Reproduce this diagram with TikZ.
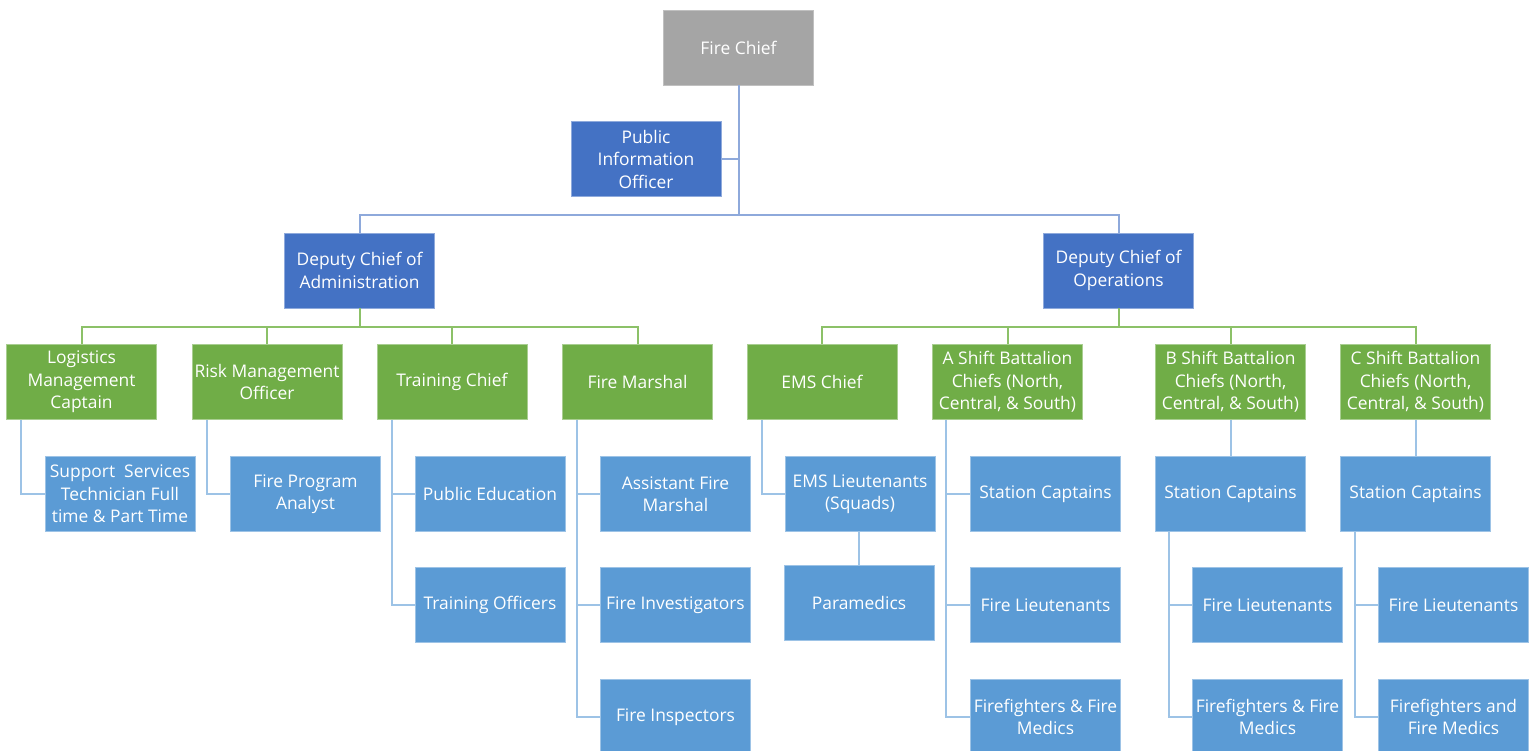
\documentclass[tikz,border=0pt]{standalone}
\usepackage{fontspec}
\setmainfont{Open Sans}
\definecolor{cgray}{HTML}{A5A5A5}
\definecolor{cblue}{HTML}{4472C4}
\definecolor{cgreen}{HTML}{70AD47}
\definecolor{clight}{HTML}{5B9BD5}
\definecolor{ltop}{HTML}{8EA9DB}
\definecolor{lgreen}{HTML}{8CC168}
\definecolor{lblue}{HTML}{9DC3E6}
\tikzset{
  box/.style={minimum width=150pt, minimum height=75pt, inner sep=0pt, align=center,
    text=white, font=\fontsize{17.4}{22.5}\selectfont, line width=0.8pt},
  graybox/.style={box, fill=cgray, draw=cgray!70!white},
  bluebox/.style={box, fill=cblue, draw=cblue!60!white},
  greenbox/.style={box, fill=cgreen, draw=cgreen!60!white},
  lightbox/.style={box, fill=clight, draw=clight!60!white},
  topline/.style={draw=ltop, line width=2pt},
  gline/.style={draw=lgreen, line width=2pt},
  bline/.style={draw=lblue, line width=2pt},
}
\begin{document}
\begin{tikzpicture}[x=1pt,y=-1pt]
\useasboundingbox (0,0) rectangle (1536,751);
% top
\node[graybox] (chief) at (738.5,47.5) {Fire Chief};
\node[bluebox] (pio) at (646,159) {Public\\Information\\Officer};
\node[bluebox] (dadm) at (359.5,270.5) {Deputy Chief of\\Administration};
\node[bluebox] (dops) at (1118.5,270.5) {Deputy Chief of\\Operations};
% green row
\node[greenbox] (log) at (81.5,382) {Logistics\\Management\\Captain};
\node[greenbox] (risk) at (267,382) {Risk Management\\Officer};
\node[greenbox] (train) at (452,382) {Training Chief};
\node[greenbox] (marshal) at (637.5,382) {Fire Marshal};
\node[greenbox] (ems) at (822,382) {EMS Chief};
\node[greenbox] (ash) at (1007.5,382) {A Shift Battalion\\Chiefs (North,\\Central, \& South)};
\node[greenbox] (bsh) at (1230.5,382) {B Shift Battalion\\Chiefs (North,\\Central, \& South)};
\node[greenbox] (csh) at (1415.5,382) {C Shift Battalion\\Chiefs (North,\\Central, \& South)};
% row 1
\node[lightbox] (sup) at (120,494) {Support\ \ Services\\Technician Full\\time \& Part Time};
\node[lightbox] (fpa) at (305.5,494) {Fire Program\\Analyst};
\node[lightbox] (pubed) at (490,494) {Public Education};
\node[lightbox] (afm) at (675.5,494) {Assistant Fire\\Marshal};
\node[lightbox] (emsl) at (860,494) {EMS Lieutenants\\(Squads)};
\node[lightbox] (sca) at (1045.5,494) {Station Captains};
\node[lightbox] (scb) at (1230.5,494) {Station Captains};
\node[lightbox] (scc) at (1415.5,494) {Station Captains};
% row 2
\node[lightbox] (trof) at (490,605) {Training Officers};
\node[lightbox] (finv) at (675.5,605) {Fire Investigators};
\node[lightbox] (para) at (859,603) {Paramedics};
\node[lightbox] (fla) at (1045.5,605) {Fire Lieutenants};
\node[lightbox] (flb) at (1267.5,605) {Fire Lieutenants};
\node[lightbox] (flc) at (1453.5,605) {Fire Lieutenants};
% row 3
\node[lightbox] (finsp) at (675.5,717) {Fire Inspectors};
\node[lightbox] (ffa) at (1045.5,717) {Firefighters \& Fire\\Medics};
\node[lightbox] (ffb) at (1267.5,717) {Firefighters \& Fire\\Medics};
\node[lightbox] (ffc) at (1453.5,717) {Firefighters and\\Fire Medics};
% connectors top
\draw[topline] (chief.south) -- ++(0,130) -| (dadm.north);
\draw[topline] (chief.south) -- ++(0,130) -| (dops.north);
\draw[topline] (pio.east) -- (pio.east -| chief.south);
% green connectors
\foreach \n in {log,risk,train,marshal} \draw[gline] (dadm.south) -- ++(0,19) -| (\n.north);
\foreach \n in {ems,ash,bsh,csh} \draw[gline] (dops.south) -- ++(0,19) -| (\n.north);
% blue connectors
\draw[bline] ([xshift=15pt]log.south west) |- (sup.west);
\draw[bline] ([xshift=15pt]risk.south west) |- (fpa.west);
\draw[bline] ([xshift=15pt]train.south west) |- (pubed.west);
\draw[bline] ([xshift=15pt]train.south west) |- (trof.west);
\draw[bline] ([xshift=15pt]marshal.south west) |- (afm.west);
\draw[bline] ([xshift=15pt]marshal.south west) |- (finv.west);
\draw[bline] ([xshift=15pt]marshal.south west) |- (finsp.west);
\draw[bline] ([xshift=15pt]ems.south west) |- (emsl.west);
\draw[bline] (emsl.south -| para.north) -- (para.north);
\draw[bline] ([xshift=14pt]ash.south west) |- (sca.west);
\draw[bline] ([xshift=14pt]ash.south west) |- (fla.west);
\draw[bline] ([xshift=14pt]ash.south west) |- (ffa.west);
\draw[bline] (bsh.south) -- (scb.north);
\draw[bline] (csh.south) -- (scc.north);
\draw[bline] ([xshift=14pt]scb.south west) |- (flb.west);
\draw[bline] ([xshift=14pt]scb.south west) |- (ffb.west);
\draw[bline] ([xshift=15pt]scc.south west) |- (flc.west);
\draw[bline] ([xshift=15pt]scc.south west) |- (ffc.west);
\end{tikzpicture}
\end{document}
